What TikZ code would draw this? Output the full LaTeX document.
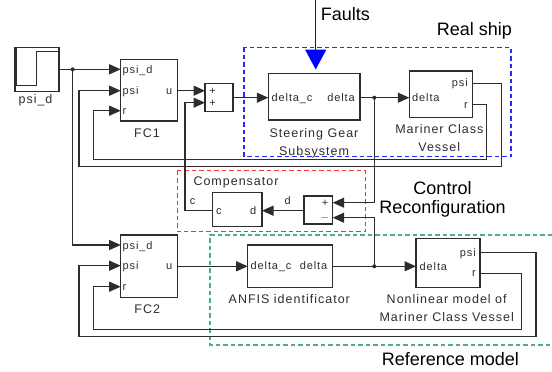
\documentclass[tikz,border=0pt]{standalone}
\usepackage{fontspec}
\setmainfont{Liberation Sans}
\newfontfamily\pf[LetterSpace=8]{Liberation Sans}
\usetikzlibrary{arrows.meta}
\definecolor{lc}{RGB}{45,45,45}
\definecolor{bdash}{RGB}{40,40,250}
\definecolor{rdash}{RGB}{245,50,50}
\definecolor{gdash}{RGB}{80,175,130}
\begin{document}
\begin{tikzpicture}[x=1pt,y=-1pt,
 blk/.style={draw=lc,line width=1.3pt,inner sep=0pt,fill=white},
 sig/.style={draw=lc,line width=1.2pt,-{Triangle[length=11.5pt,width=10pt]}},
 wire/.style={draw=lc,line width=1.2pt},
 plab/.style={font=\pf\fontsize{11}{13}\selectfont,inner sep=0pt,text=lc},
 blab/.style={font=\pf\fontsize{12.5}{15}\selectfont,inner sep=0pt,text=lc},
 big/.style={font=\fontsize{18}{21}\selectfont,inner sep=0pt},
 jdot/.style={circle,fill=lc,inner sep=0pt,minimum size=4pt},
 dbox/.style={line width=1.2pt,dash pattern=on 4.5pt off 3pt},
 ]
\useasboundingbox (0,0) rectangle (552,372);
% dashed groups
\draw[dbox,draw=bdash] (244,47.3) rectangle (511,156.7);
\draw[dbox,draw=rdash] (177.3,170.7) rectangle (365.7,231.7);
\draw[dbox,draw=gdash] (552,235) -- (210,235) -- (210,345) -- (552,345);
% blocks
\node[blk,minimum width=44pt,minimum height=44.4pt] (step) at (37,69.5) {};
\draw[lc,line width=0.9pt] (16.7,47.3) -- (16.7,85.7) -- (36.7,85.7) -- (36.7,51.7) -- (59,51.7);
\node[blk,minimum width=57pt,minimum height=61.7pt] (FC1) at (149.2,90.2) {};
\node[blk,minimum width=28pt,minimum height=28.4pt] (S1) at (219,97.5) {};
\node[blk,minimum width=91.7pt,minimum height=46.3pt] (SG) at (314.2,96.9) {};
\node[blk,minimum width=63.4pt,minimum height=46.3pt] (MV) at (441,94.2) {};
\node[blk,minimum width=49.3pt,minimum height=34pt] (CMP) at (237.4,209.7) {};
\node[blk,minimum width=28.7pt,minimum height=28pt] (S2) at (318.4,210) {};
\node[blk,minimum width=57pt,minimum height=62.3pt] (FC2) at (149.2,266.2) {};
\node[blk,minimum width=85pt,minimum height=42.7pt] (AN) at (290.2,266.4) {};
\node[blk,minimum width=64pt,minimum height=49.4pt] (NL) at (448,263) {};
% ports
\coordinate (stepout) at (59,69.3);
\coordinate (j1) at (72.7,69.3);
\coordinate (fc1a) at (120.7,69.3);
\coordinate (fc1b) at (120.7,90.7);
\coordinate (fc1c) at (120.7,110.7);
\coordinate (fc1u) at (177.7,90.7);
\coordinate (s1a) at (205,90.7);
\coordinate (s1b) at (205,102.7);
\coordinate (s1o) at (233,97.7);
\coordinate (sgin) at (268.3,97.7);
\coordinate (sgout) at (360,97.7);
\coordinate (j2) at (374.3,97.7);
\coordinate (mvin) at (409.3,97.7);
\coordinate (mvpsi) at (472.7,83.3);
\coordinate (mvr) at (472.7,104.3);
\coordinate (fc2a) at (120.7,245);
\coordinate (fc2b) at (120.7,265.7);
\coordinate (fc2c) at (120.7,286.7);
\coordinate (fc2u) at (177.7,266.3);
\coordinate (anin) at (247.7,266.3);
\coordinate (anout) at (332.7,266.3);
\coordinate (j3) at (374.3,266.3);
\coordinate (nlin) at (416,266.3);
\coordinate (nlpsi) at (480,252.3);
\coordinate (nlr) at (480,273.3);
\coordinate (cmpc) at (212.7,210.7);
\coordinate (cmpd) at (262,210.7);
\coordinate (s2o) at (304,210.7);
\coordinate (s2a) at (332.7,202.7);
\coordinate (s2b) at (332.7,217.7);
\coordinate (ftop) at (315.7,0);
\coordinate (fend) at (315.7,69.5);
% connectors
\draw[sig] (stepout) -- (fc1a);
\draw[sig] (j1) |- (fc2a);
\draw[sig] (fc1u) -- (s1a);
\draw[sig] (cmpc) -- (185,210.7) |- (s1b);
\draw[sig] (s1o) -- (sgin);
\draw[sig] (sgout) -- (mvin);
\draw[sig] (j2) |- (s2a);
\draw[sig] (mvpsi) -- (501.7,83.3) -- (501.7,166.7) -- (79,166.7) |- (fc1b);
\draw[sig] (mvr) -- (486.7,104.3) -- (486.7,159.3) -- (93.3,159.3) |- (fc1c);
\draw[sig] (s2o) -- (cmpd);
\draw[sig] (fc2u) -- (anin);
\draw[sig] (anout) -- (nlin);
\draw[sig] (j3) |- (s2b);
\draw[sig] (nlpsi) -- (536,252.3) -- (536,336.7) -- (79,336.7) |- (fc2b);
\draw[sig] (nlr) -- (521.7,273.3) -- (521.7,329.3) -- (93.3,329.3) |- (fc2c);
\draw[draw=blue,line width=1.5pt,-{Triangle[length=20pt,width=21pt]}] (ftop) -- (fend);
\node[jdot] (d1) at (j1) {};
\node[jdot] (d2) at (j2) {};
\node[jdot] (d3) at (j3) {};
% port labels
\node[plab,anchor=base west] (l1) at (122.5,73.3) {psi\_d};
\node[plab,anchor=base west] (l2) at (122.5,94.7) {psi};
\node[plab,anchor=base west] (l3) at (122.5,114.7) {r};
\node[plab,anchor=base east] (l4) at (172.5,94.2) {u};
\node[plab,anchor=base west] (l5) at (122.5,249) {psi\_d};
\node[plab,anchor=base west] (l6) at (122.5,269.7) {psi};
\node[plab,anchor=base west] (l7) at (122.5,290.7) {r};
\node[plab,anchor=base east] (l8) at (172.5,269.8) {u};
\node[plab,anchor=base west] (l9) at (271.5,101.2) {delta\_c};
\node[plab,anchor=base east] (l10) at (355,101.2) {delta};
\node[plab,anchor=base west] (l11) at (412,101.2) {delta};
\node[plab,anchor=base east] (l12) at (468,86.5) {psi};
\node[plab,anchor=base east] (l13) at (468,108) {r};
\node[plab,anchor=base west] (l14) at (216,214) {c};
\node[plab,anchor=base east] (l15) at (256.5,214) {d};
\node[plab,anchor=base west] (l16) at (250.5,269.8) {delta\_c};
\node[plab,anchor=base east] (l17) at (327.5,269.8) {delta};
\node[plab,anchor=base west] (l18) at (419.5,270.5) {delta};
\node[plab,anchor=base east] (l19) at (476,256) {psi};
\node[plab,anchor=base east] (l20) at (476,276.5) {r};
\node[plab] (p1) at (212.5,91.2) {+};
\node[plab] (p2) at (212.5,103.2) {+};
\node[plab] (p3) at (325,203) {+};
\node[plab] (p4) at (325,217.5) {$-$};
\node[plab,anchor=base] (wc) at (192.7,204.3) {c};
\node[plab,anchor=base] (wd) at (287.7,204.3) {d};
% block names
\node[blab,anchor=base] (n1) at (35.5,103.5) {psi\_d};
\node[blab,anchor=base] (n2) at (147,137.7) {FC1};
\node[blab,anchor=base] (n3) at (314,137.3) {Steering Gear};
\node[blab,anchor=base] (n4) at (314,155) {Subsystem};
\node[blab,anchor=base] (n5) at (439.3,133.3) {Mariner Class};
\node[blab,anchor=base] (n6) at (439.3,151.5) {Vessel};
\node[blab,anchor=base west] (n7) at (193.3,185.7) {Compensator};
\node[blab,anchor=base] (n8) at (147.3,313.3) {FC2};
\node[blab,anchor=base] (n9) at (289.3,303.3) {ANFIS identificator};
\node[blab,anchor=base] (n10) at (446.7,303.3) {Nonlinear model of};
\node[blab,anchor=base] (n11) at (446.7,321.7) {Mariner Class Vessel};
% big labels
\node[big,anchor=base west] (t1) at (320.7,20) {Faults};
\node[big,anchor=base west] (t2) at (436.7,35) {Real ship};
\node[big,anchor=base] (t3) at (442.5,194) {Control};
\node[big,anchor=base] (t4) at (442.5,213.3) {Reconfiguration};
\node[big,anchor=base west] (t5) at (381.7,365.7) {Reference model};
\end{tikzpicture}
\end{document}
